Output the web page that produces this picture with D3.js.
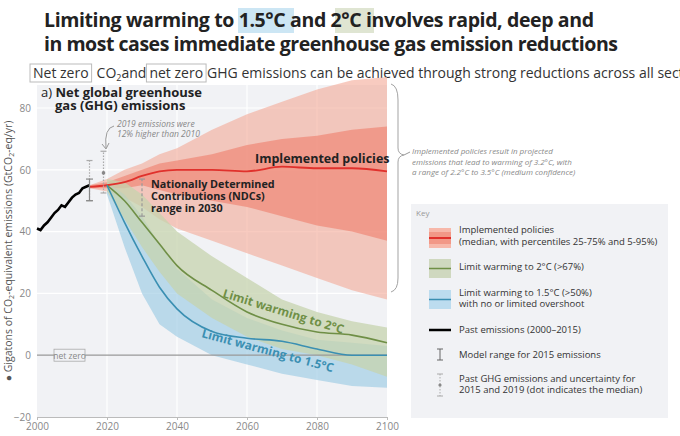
<!DOCTYPE html>
<html><head><meta charset="utf-8">
<script src="https://cdn.jsdelivr.net/npm/d3@7"></script>
<style>body{margin:0;background:#fff;font-family:"Open Sans","Noto Sans",sans-serif}</style>
</head><body><svg id="c" width="680" height="436"></svg>
<script>
const years=[2015,2020,2025,2030,2035,2040,2050,2060,2070,2080,2090,2100];
const implMed=[54.5,55,56,58,59.5,60,60,59.5,61,60.5,60.5,59.5];
const implHi95=[55,57,60,62,65,67,73,78,82,86,89,90];
const implLo5=[54,53,51,48,44,41,37,33,29,25,21,18];
const implHi75=[55,56,58,60,62,63,65,68,70,71,73,74];
const implLo25=[54,54,54,55,53.5,52,50,48,45,42,40,37];
const c2Med=[null,55,50,43,36,29,21,14,10,7.5,6.5,4];
const c2Hi=[null,57,56,52,46,40,32,25,18,14,11,9];
const c2Lo=[null,53,44,35,27,20,12,6,2,0,-3,-7];
const c15Med=[null,55,43,32,22,15,7.7,5.5,4.5,2,0,0];
const c15Hi=[null,56,52,45,36,28,18,12,8,5,4,3];
const c15Lo=[null,52,35,20,10,6,0,-3,-6,-8,-10,-10.5];
const pastYears=[2000,2001,2002,2003,2004,2005,2006,2007,2008,2009,2010,2011,2012,2013,2014,2015];
const pastVals=[41,40.5,42,43,44.5,46,47,48.5,48,49.5,51,52,52.5,54,54.5,55];
const xTicks=[2000,2020,2040,2060,2080,2100];
const yTicks=[-20,0,20,40,60,80];

const svg=d3.select("#c");
const x=d3.scaleLinear().domain([2000,2100]).range([37,387]);
const y=d3.scaleLinear().domain([-20,80]).range([417,108]);
const F='"Open Sans","Noto Sans",sans-serif';

// title
const t=svg.append("g").attr("font-family",F).attr("font-weight",700).attr("font-size",19.5).attr("fill","#222");
t.append("rect").attr("x",238).attr("y",8).attr("width",56).attr("height",25).attr("fill","#cce6f4");
t.append("rect").attr("x",335).attr("y",8).attr("width",39).attr("height",25).attr("fill","#dfe5d2");
t.append("text").attr("x",44).attr("y",27).attr("textLength",550).text("Limiting warming to 1.5°C and 2°C involves rapid, deep and");
t.append("text").attr("x",44).attr("y",51).attr("textLength",574).text("in most cases immediate greenhouse gas emission reductions");

// subtitle as pieces
const NF='"Liberation Sans Narrow","Open Sans",sans-serif';
const s=svg.append("g").attr("font-family",NF).attr("font-size",14).attr("fill","#333");
let cx=33;
function piece(str,box,sub){
 const tx=s.append("text").attr("x",cx).attr("y",78).attr("font-size",sub?9:14).attr("dy",sub?3:0).text(str);
 const w=tx.node().getComputedTextLength();
 if(box) s.insert("rect","text").attr("x",cx-3).attr("y",64).attr("width",w+6).attr("height",18).attr("fill","none").attr("stroke","#bbb");
 cx+=w;
}
piece("Net zero",true);cx+=8;piece("CO");piece("2",false,true);piece(" and ");cx+=3;piece("net zero",true);cx+=4;
piece("GHG emissions can be achieved through strong reductions across all sectors");

// plot bg
svg.append("rect").attr("x",37).attr("y",85).attr("width",350).attr("height",332).attr("fill","#f1f2f5");
svg.append("g").selectAll("line").data(yTicks.filter(d=>d!==0&&d!==-20)).join("line")
 .attr("x1",37).attr("x2",387).attr("y1",d=>y(d)).attr("y2",d=>y(d)).attr("stroke","#fff").attr("stroke-width",1.2);
svg.append("g").selectAll("line").data(xTicks.slice(1,5)).join("line")
 .attr("y1",85).attr("y2",417).attr("x1",d=>x(d)).attr("x2",d=>x(d)).attr("stroke","#fff").attr("stroke-width",1.2);

const ax=svg.append("g").attr("transform","translate(0,417)").call(d3.axisBottom(x).tickValues(xTicks).tickFormat(d3.format("d")).tickSize(3));
ax.select(".domain").attr("stroke","#bbb");ax.selectAll("line").attr("stroke","#bbb");
ax.selectAll("text").attr("fill","#888").attr("font-size",10).attr("font-family",F);
const ay=svg.append("g").attr("transform","translate(37,0)").call(d3.axisLeft(y).tickValues(yTicks).tickFormat(d=>d<0?"−"+(-d):d).tickSize(0).tickPadding(6));
ay.select(".domain").remove();ay.selectAll("text").attr("fill","#888").attr("font-size",10).attr("font-family",F);
svg.append("text").attr("transform","translate(12,251) rotate(-90)").attr("text-anchor","middle").attr("font-family",F).attr("font-size",10.5).attr("fill","#555")
 .html('● Gigatons of CO<tspan font-size="7" dy="2">2</tspan><tspan dy="-2">-equivalent emissions (GtCO</tspan><tspan font-size="7" dy="2">2</tspan><tspan dy="-2">-eq/yr)</tspan>');

const idx=d3.range(years.length);
function band(lo,hi,fill,op){
 const ii=idx.filter(i=>lo[i]!=null);
 svg.append("path").attr("d",d3.area().x(i=>x(years[i])).y0(i=>y(lo[i])).y1(i=>y(hi[i])).curve(d3.curveLinear)(ii)).attr("fill",fill).attr("fill-opacity",op);
}
function line(v,col,w){
 const ii=idx.filter(i=>v[i]!=null);
 svg.append("path").attr("d",d3.line().x(i=>x(years[i])).y(i=>y(v[i])).curve(d3.curveMonotoneX)(ii)).attr("fill","none").attr("stroke",col).attr("stroke-width",w);
}
band(implLo5,implHi95,"#f4a896",0.6);
band(implLo25,implHi75,"#ee7d6a",0.6);
band(c15Lo,c15Hi,"#9ccbe4",0.65);
band(c2Lo,c2Hi,"#c6d3ad",0.75);
// zero line
svg.append("line").attr("x1",37).attr("x2",387).attr("y1",y(0)).attr("y2",y(0)).attr("stroke","#999").attr("stroke-width",1.3);
svg.append("rect").attr("x",54).attr("y",y(0)-6).attr("width",31).attr("height",12).attr("fill","#f1f2f5").attr("stroke","#aaa").attr("stroke-width",0.8);
svg.append("text").attr("x",69.5).attr("y",y(0)+3.5).attr("text-anchor","middle").attr("font-size",8.5).attr("fill","#888").attr("font-family",F).text("net zero");
line(implMed,"#e0312c",1.8);
line(c2Med,"#6f8f46",1.6);
line(c15Med,"#3a8fb2",1.6);
svg.append("path").attr("d",d3.line().x((d,i)=>x(pastYears[i])).y(d=>y(d))(pastVals)).attr("fill","none").attr("stroke","#000").attr("stroke-width",2.6);

// error bars
function ibar(xx,lo,hi,dash,col,cap){
 const g=svg.append("g").attr("stroke",col).attr("stroke-width",1.2);
 g.append("line").attr("x1",x(xx)).attr("x2",x(xx)).attr("y1",y(lo)).attr("y2",y(hi)).attr("stroke-dasharray",dash);
 [lo,hi].forEach(v=>g.append("line").attr("x1",x(xx)-cap).attr("x2",x(xx)+cap).attr("y1",y(v)).attr("y2",y(v)));
}
ibar(2015,50,63,"1.5,1.5","#aaa",3);
ibar(2015,50,57,null,"#888",3.5);
ibar(2019,52.5,66,"1.5,1.5","#aaa",3);
svg.append("circle").attr("cx",x(2019)).attr("cy",y(59)).attr("r",1.8).attr("fill","#888");
ibar(2030,45,57,"3,2","#999",3);

// texts
const lab=svg.append("g").attr("font-family",F);
lab.append("text").attr("x",41).attr("y",97).attr("font-size",13).attr("fill","#222").html('a) <tspan font-weight="700">Net global greenhouse</tspan>');
lab.append("text").attr("x",55).attr("y",110).attr("font-size",13).attr("font-weight",700).attr("fill","#222").text("gas (GHG) emissions");
lab.append("text").attr("x",117).attr("y",127).attr("font-size",8.5).attr("font-style","italic").attr("fill","#888").text("2019 emissions were");
lab.append("text").attr("x",117).attr("y",137).attr("font-size",8.5).attr("font-style","italic").attr("fill","#888").text("12% higher than 2010");
svg.append("path").attr("d","M114,126 Q104,128 106,148").attr("fill","none").attr("stroke","#999");
svg.append("path").attr("d","M102,144 L106,149 L109,143").attr("fill","none").attr("stroke","#999");
lab.append("text").attr("x",255).attr("y",163).attr("font-size",12.5).attr("font-weight",700).attr("fill","#222").text("Implemented policies");
["Nationally Determined","Contributions (NDCs)","range in 2030"].forEach((s,i)=>lab.append("text").attr("x",151).attr("y",188+i*12).attr("font-size",10.8).attr("font-weight",700).attr("fill","#222").text(s));
lab.append("text").attr("transform","translate(222,297) rotate(17)").attr("font-size",12).attr("font-weight",700).attr("fill","#6f8f46").text("Limit warming to 2°C");
lab.append("text").attr("transform","translate(201,337) rotate(15)").attr("font-size",12).attr("font-weight",700).attr("fill","#3a8fb2").text("Limit warming to 1.5°C");

// bracket
svg.append("path").attr("d","M391,84 Q398,86 398,100 L398,148 Q398,154 404,155 Q398,156 398,162 L398,278 Q398,290 391,292").attr("fill","none").attr("stroke","#999").attr("stroke-width",0.9);
svg.append("line").attr("x1",404).attr("x2",410).attr("y1",155).attr("y2",152).attr("stroke","#999");
["Implemented policies result in projected","emissions that lead to warming of 3.2°C, with","a range of 2.2°C to 3.5°C (medium confidence)"].forEach((s,i)=>
 lab.append("text").attr("x",412).attr("y",154+i*10.5).attr("font-size",8).attr("font-style","italic").attr("fill","#888").text(s));

// key
const k=svg.append("g").attr("font-family",F);
k.append("rect").attr("x",411).attr("y",204).attr("width",257).attr("height",214).attr("fill","#f1f2f5");
k.append("text").attr("x",416).attr("y",216).attr("font-size",8).attr("fill","#999").text("Key");
function sw(yy,fill,lc){k.append("rect").attr("x",429).attr("y",yy).attr("width",22).attr("height",19).attr("fill",fill);
 k.append("line").attr("x1",429).attr("x2",451).attr("y1",yy+9.5).attr("y2",yy+9.5).attr("stroke",lc).attr("stroke-width",1.5);}
k.append("rect").attr("x",429).attr("y",228).attr("width",22).attr("height",20).attr("fill","#f7b8aa");
k.append("rect").attr("x",429).attr("y",232).attr("width",22).attr("height",12).attr("fill","#f29887");
k.append("line").attr("x1",429).attr("x2",451).attr("y1",238).attr("y2",238).attr("stroke","#e0312c").attr("stroke-width",2);
sw(259,"#cfd8bf","#6f8f46");
sw(290,"#bcdcef","#3a8fb2");
k.append("line").attr("x1",429).attr("x2",451).attr("y1",330).attr("y2",330).attr("stroke","#000").attr("stroke-width",2.5);
const kt=[["Implemented policies",233],["(median, with percentiles 25-75% and 5-95%)",245],["Limit warming to 2°C (>67%)",270],["Limit warming to 1.5°C (>50%)",296],["with no or limited overshoot",307],["Past emissions (2000–2015)",333],["Model range for 2015 emissions",358],["Past GHG emissions and uncertainty for",382],["2015 and 2019 (dot indicates the median)",393]];
kt.forEach(([s,yy])=>k.append("text").attr("x",459).attr("y",yy).attr("font-size",9.5).attr("fill","#333").text(s));
const kb=k.append("g").attr("stroke","#666");
kb.append("line").attr("x1",440).attr("x2",440).attr("y1",349).attr("y2",360);
kb.append("line").attr("x1",437).attr("x2",443).attr("y1",349).attr("y2",349);
kb.append("line").attr("x1",437).attr("x2",443).attr("y1",360).attr("y2",360);
const kd=k.append("g").attr("stroke","#aaa");
kd.append("line").attr("x1",440).attr("x2",440).attr("y1",374).attr("y2",396).attr("stroke-dasharray","1.5,1.5");
kd.append("line").attr("x1",437).attr("x2",443).attr("y1",374).attr("y2",374);
kd.append("line").attr("x1",437).attr("x2",443).attr("y1",396).attr("y2",396);
k.append("circle").attr("cx",440).attr("cy",385).attr("r",1.6).attr("fill","#888");
</script></body></html>
